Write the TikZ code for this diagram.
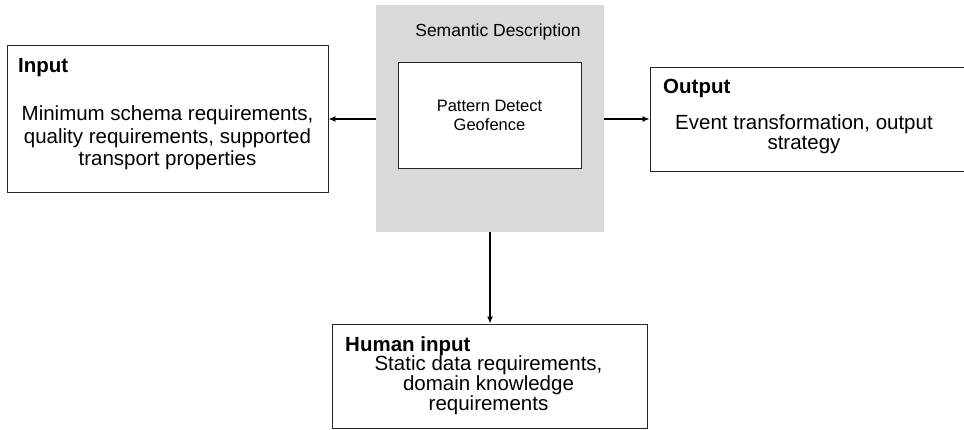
\documentclass[tikz,border=0pt]{standalone}
\usepackage{fontspec}
\setmainfont{Liberation Sans}
\usetikzlibrary{arrows.meta}
\newcommand\mytight{\lineskiplimit=-20pt\relax\lineskip=0pt\relax}
\begin{document}
\begin{tikzpicture}[x=1pt,y=-1pt,
  box/.style={draw=black!85,line width=0.8pt,fill=white,inner sep=0pt},
  txt/.style={font=\fontsize{20.5}{22.5}\selectfont\mytight,align=center,inner sep=0pt},
  txtb/.style={font=\fontsize{20.5}{20}\selectfont\mytight,align=center,inner sep=0pt},
  hdr/.style={font=\fontsize{20.5}{22}\selectfont\bfseries,anchor=base west,inner sep=0pt},
  small/.style={font=\fontsize{16.5}{19}\selectfont,align=center,inner sep=0pt},
  arr/.style={-{Latex[length=7pt,width=6pt]},line width=1.4pt}]
\useasboundingbox (0,0) rectangle (964,430);
% semantic description
\node[fill=black!15,minimum width=228pt,minimum height=227pt,inner sep=0pt] (sem) at (490,118.5) {};
\node[small,font=\fontsize{17.5}{19}\selectfont] (semt) at (498,32) {Semantic Description};
\node[box,minimum width=183pt,minimum height=106pt] (pat) at (489.5,115) {};
\node[small] (patt) at (489.5,115) {Pattern Detect\\Geofence};
% input
\node[box,minimum width=321pt,minimum height=147pt] (in) at (167.5,118.5) {};
\node[hdr] (inh) at (18,73) {Input};
\node[txt] (int) at (167.5,138) {Minimum schema requirements,\\quality requirements, supported\\transport properties};
% output
\node[box,minimum width=316pt,minimum height=104pt] (out) at (808,119) {};
\node[hdr] (outh) at (663,94) {Output};
\node[txtb] (outt) at (804,134) {Event transformation, output\\strategy};
% human input
\node[box,minimum width=315pt,minimum height=104pt] (hum) at (489.5,376) {};
\node[hdr] (humh) at (345,352) {Human input};
\node[txtb] (humt) at (488.5,385) {Static data requirements,\\domain knowledge\\requirements};
% arrows
\coordinate (ly) at (0,119);
\coordinate (lx) at (490,0);
\draw[arr] (sem.west |- ly) -- (in.east |- ly);
\draw[arr,line width=2.2pt] (sem.east |- ly) -- (out.west |- ly);
\draw[arr] (sem.south -| lx) -- (hum.north -| lx);
\end{tikzpicture}
\end{document}
